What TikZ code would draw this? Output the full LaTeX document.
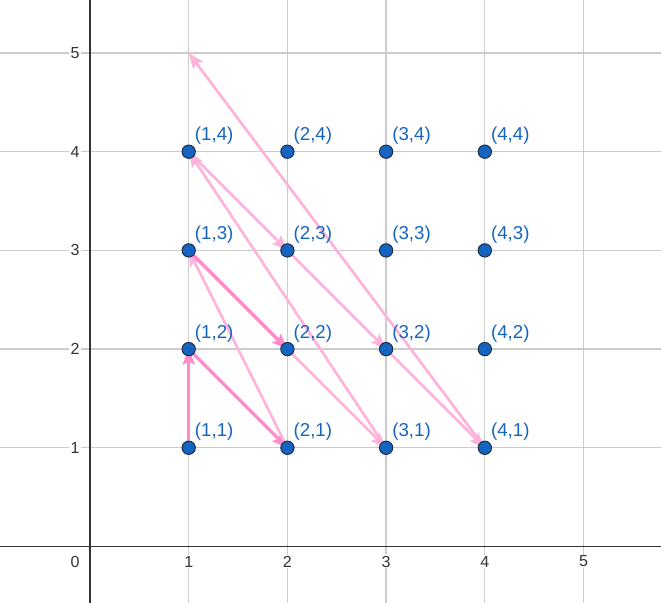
\documentclass[tikz,border=0pt]{standalone}
\usepackage{fontspec}
\setmainfont{Liberation Sans}
\usetikzlibrary{arrows.meta}
\definecolor{gridgray}{HTML}{CCCCCC}
\definecolor{axisgray}{HTML}{333333}
\definecolor{ptblue}{HTML}{1565C0}
\definecolor{ptedge}{HTML}{1A2A44}
\definecolor{pinkdark}{HTML}{FF8CC8}
\definecolor{pinklight}{HTML}{FFB3DA}
\begin{document}
\begin{tikzpicture}[x=2.6cm, y=2.6cm, >={Stealth[length=11.5pt, width=9pt, inset=2pt]},
    gridline/.style={gridgray, line width=1pt},
    axisline/.style={axisgray, line width=1.1pt},
    ticklabel/.style={axisgray, fill=white, inner sep=1pt, font=\fontsize{12}{14}\selectfont},
    ptdot/.style={circle, fill=ptblue, draw=ptedge, line width=0.7pt, minimum size=10pt, inner sep=0pt},
    ptlabel/.style={ptblue, anchor=base west, inner sep=0pt, font=\fontsize{14}{16}\selectfont},
    stepdark/.style={->, pinkdark, line width=2.5pt},
    steplight/.style={->, pinklight, line width=2pt}]
    \useasboundingbox (-0.912,-0.568) rectangle (5.785,5.537);

    % --- Grid and axes ---
    \foreach \i in {1,...,5} {
        \draw[gridline] (\i,-0.568) -- (\i,5.537);
        \draw[gridline] (-0.912,\i) -- (5.785,\i);
    }
    \draw[axisline] (-0.912,0) -- (5.785,0);
    \draw[axisline] (0,-0.568) -- (0,5.537);

    \foreach \i in {1,...,5} {
        \node[ticklabel] (xt\i) at (\i,-0.152) {\i};
        \node[ticklabel] (yt\i) at (-0.152,\i) {\i};
    }
    \node[ticklabel] (xt0) at (-0.152,-0.152) {0};

    % --- Lattice points ---
    \foreach \x in {1,...,4}
        \foreach \y in {1,...,5}
            \coordinate (p\x\y) at (\x,\y);

    % --- Diagonal walk ---
    \foreach \a/\b/\s in {11/12/stepdark, 12/21/stepdark, 21/13/steplight, 13/22/stepdark,
        22/31/steplight, 31/14/steplight, 14/23/steplight, 23/32/steplight,
        32/41/steplight, 41/15/steplight}
        \draw[\s] (p\a) -- (p\b);

    \foreach \x in {1,...,4}
        \foreach \y in {1,...,4} {
            \node[ptdot] (d\x\y) at (p\x\y) {};
            \node[ptlabel, xshift=4.5pt, yshift=8.3pt] (l\x\y) at (p\x\y) {(\x,\y)};
        }
\end{tikzpicture}
\end{document}
